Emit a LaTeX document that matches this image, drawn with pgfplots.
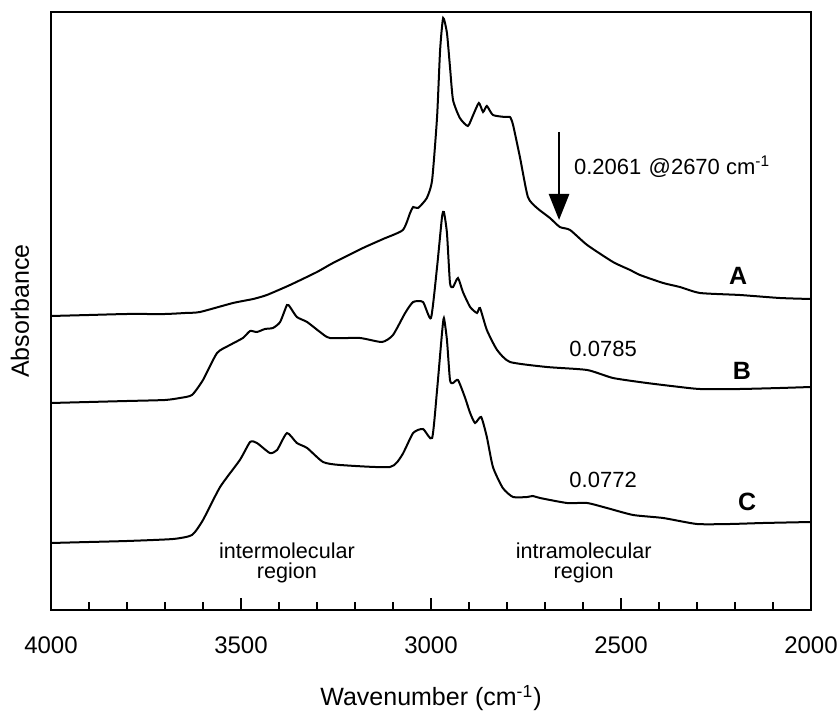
\documentclass[border=0pt]{standalone}
\usepackage{pgfplots}
\pgfplotsset{compat=1.18}
\usepackage{fontspec}
\setmainfont{Liberation Sans}
\usetikzlibrary{arrows.meta}

\pgfplotstableread{
w y
4000 294
3900 295
3800 296
3700 296
3647 297
3608 298
3521 307
3468 311
3432 315
3371 325
3300 338
3258 347
3179 362
3126 371
3074 380
3055 397
3047 403
3034 402
3011 412
2997 430
2984 493
2976 560
2968 592
2958 577
2950 543
2942 510
2924 492
2903 484
2889 495
2874 507
2863 498
2853 504
2837 495
2805 493
2792 493
2784 485
2766 453
2745 413
2721 402
2687 392
2661 383
2634 380
2589 365
2521 348
2476 340
2450 335
2389 327
2345 323
2292 317
2187 315
2082 312
2000 311
}\dataA

\pgfplotstableread{
w y
4000 207
3900 208
3800 209
3700 210
3661 212
3629 215
3600 230
3563 257
3529 265
3495 272
3476 279
3458 278
3437 281
3416 282
3397 288
3379 305
3371 303
3353 293
3326 288
3292 278
3266 272
3187 272
3129 268
3100 275
3068 297
3047 308
3021 308
3000 292
2984 343
2971 393
2966 398
2958 377
2950 327
2942 323
2929 332
2916 318
2897 303
2879 297
2871 302
2853 280
2826 260
2792 248
2695 243
2589 240
2521 232
2432 227
2345 223
2292 221
2187 221
2082 222
2000 223
}\dataB

\pgfplotstableread{
w y
4000 67
3900 68
3800 69
3679 71
3629 75
3600 90
3555 123
3503 150
3476 168
3458 167
3424 157
3405 160
3379 177
3353 167
3326 162
3284 148
3239 145
3108 143
3076 155
3047 177
3021 181
2997 172
2984 220
2971 277
2966 292
2958 270
2950 230
2942 227
2929 230
2911 213
2897 197
2884 187
2868 193
2853 173
2837 143
2811 122
2784 113
2747 113
2732 114
2713 112
2642 107
2589 107
2537 102
2468 95
2389 92
2300 86
2213 86
2126 87
2000 88
}\dataC

\begin{document}
\begin{tikzpicture}
\useasboundingbox (-25.5pt,-51.5pt) rectangle (393pt,305pt);
\begin{axis}[
  scale only axis,
  width=380pt, height=299pt,
  x dir=reverse,
  xmin=2000, xmax=4000,
  ymin=0, ymax=598,
  axis line style={line width=0.8pt},
  xtick={2000,2500,3000,3500,4000},
  minor xtick={2100,2200,2300,2400,2600,2700,2800,2900,3100,3200,3300,3400,3600,3700,3800,3900},
  ytick=\empty,
  tick align=inside,
  xtick pos=bottom,
  major tick length=6pt,
  minor tick length=4pt,
  every tick/.style={black, line width=0.6pt},
  /pgf/number format/assume math mode=true,
  xticklabel={\pgfmathprintnumber[1000 sep={}]{\tick}},
  xticklabel style={font=\fontsize{12}{12}\selectfont, anchor=center, yshift=-17.5pt},
  xlabel={Wavenumber (cm\textsuperscript{-1})},
  xlabel style={font=\fontsize{12.5}{12.5}\selectfont, at={(axis description cs:0.5,0)}, anchor=center, yshift=-44pt},
  ylabel={Absorbance},
  ylabel style={font=\fontsize{12.5}{12.5}\selectfont, at={(axis description cs:-0.0408,0.5)}, anchor=center},
  clip=false,
]
\addplot[black, line width=1pt, smooth, tension=0.35] table[x=w,y=y] {\dataA};
\addplot[black, line width=1pt, smooth, tension=0.35] table[x=w,y=y] {\dataB};
\addplot[black, line width=1pt, smooth, tension=0.35] table[x=w,y=y] {\dataC};

\draw[line width=1.3pt, -{Triangle[length=13pt,width=10pt]}] (axis cs:2663,478) -- (axis cs:2663,390);
\node[anchor=west, font=\fontsize{11}{11}\selectfont] at (axis cs:2642,443) {0.2061\,\,@2670 cm\textsuperscript{-1}};
\node[font=\fontsize{11}{11}\selectfont] at (axis cs:2547,261) {0.0785};
\node[font=\fontsize{11}{11}\selectfont] at (axis cs:2547,130) {0.0772};
\node[font=\bfseries\fontsize{12.5}{12.5}\selectfont] at (axis cs:2192,334) {A};
\node[font=\bfseries\fontsize{12.5}{12.5}\selectfont] at (axis cs:2182,239) {B};
\node[font=\bfseries\fontsize{12.5}{12.5}\selectfont] at (axis cs:2168,108) {C};
\node[align=center, font=\fontsize{10.8}{10}\selectfont] at (axis cs:3379,47) {intermolecular\\region};
\node[align=center, font=\fontsize{10.8}{10}\selectfont] at (axis cs:2598,47) {intramolecular\\region};
\end{axis}
\end{tikzpicture}
\end{document}
